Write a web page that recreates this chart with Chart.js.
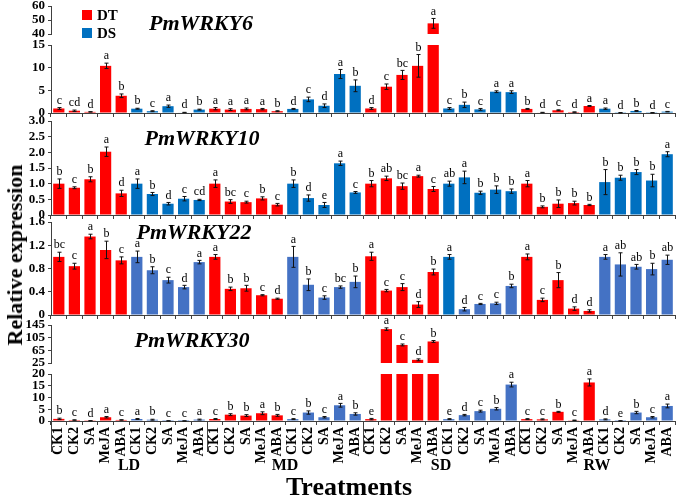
<!DOCTYPE html>
<html>
<head>
<meta charset="utf-8">
<script src="https://cdn.jsdelivr.net/npm/chart.js@4.4.0/dist/chart.umd.min.js"></script>
<style>
  html, body { margin: 0; padding: 0; background: #fff; }
  #wrap { position: relative; width: 685px; height: 497px; overflow: hidden; font-family: "Liberation Serif", "Times New Roman", serif; }
  #wrap canvas { position: absolute; left: 0; }
  .txt { position: absolute; color: #000; font-weight: bold; white-space: nowrap; line-height: 1; }
  .gene { font-style: italic; font-size: 22px; transform: translate(-50%, -50%); }
  .sw { position: absolute; width: 10px; height: 10px; }
</style>
</head>
<body>
<div id="wrap">
  <canvas id="c6top"></canvas>
  <canvas id="c6"></canvas>
  <canvas id="c10"></canvas>
  <canvas id="c22"></canvas>
  <canvas id="c30top"></canvas>
  <canvas id="c30"></canvas>

  <div class="sw" style="left:82px;top:10px;background:#FF0000"></div>
  <div class="txt" style="left:97px;top:8px;font-size:15px">DT</div>
  <div class="sw" style="left:82px;top:28px;background:#0070C0"></div>
  <div class="txt" style="left:97px;top:26px;font-size:15px">DS</div>

  <div class="txt gene" style="left:201px;top:23px">PmWRKY6</div>
  <div class="txt gene" style="left:202px;top:138px">PmWRKY10</div>
  <div class="txt gene" style="left:194px;top:232px">PmWRKY22</div>
  <div class="txt gene" style="left:192px;top:340px">PmWRKY30</div>

  <div class="txt" style="left:15px;top:255px;font-size:22px;transform:translate(-50%,-50%) rotate(-90deg)">Relative expression</div>
  <div class="txt" style="left:349px;top:487px;font-size:26px;transform:translate(-50%,-50%)">Treatments</div>
</div>

<script>
// categories
const treatments = ['CK1', 'CK2', 'SA', 'MeJA', 'ABA'];
const stages = ['LD', 'MD', 'SD', 'RW'];
const cultivars = ['DT', 'DS'];

// PmWRKY6
const wrky6 = [1.0, 0.5, 0.25, 10.4, 3.8, 0.95, 0.4, 1.5, 0.1, 0.75,
  0.95, 0.75, 0.9, 0.85, 0.4, 0.9, 3.0, 1.6, 8.6, 6.0,
  1.0, 5.8, 8.4, 10.4, 47.6, 1.0, 1.8, 0.8, 4.7, 4.6,
  0.9, 0.1, 0.6, 0.2, 1.55, 0.95, 0.05, 0.45, 0.05, 0.3];
const wrky6Err = [0.2, 0.15, 0.05, 0.6, 0.4, 0.1, 0.1, 0.25, 0.05, 0.1,
  0.25, 0.2, 0.2, 0.15, 0.1, 0.1, 0.5, 0.4, 1.0, 1.3,
  0.2, 0.6, 1.0, 2.5, 3.5, 0.2, 0.6, 0.2, 0.2, 0.3,
  0.1, 0.05, 0.1, 0.05, 0.1, 0.15, 0.05, 0.1, 0.05, 0.05];
const wrky6Sig = ['c', 'cd', 'd', 'a', 'b', 'b', 'c', 'a', 'd', 'b',
  'a', 'a', 'a', 'a', 'b', 'd', 'c', 'd', 'a', 'b',
  'd', 'c', 'bc', 'b', 'a', 'c', 'b', 'c', 'a', 'a',
  'b', 'd', 'c', 'd', 'a', 'a', 'd', 'b', 'd', 'c'];

// PmWRKY10
const wrky10 = [1.0, 0.87, 1.14, 2.02, 0.69, 1.0, 0.67, 0.36, 0.52, 0.48,
  1.0, 0.43, 0.41, 0.53, 0.33, 1.0, 0.54, 0.32, 1.65, 0.72,
  1.0, 1.17, 0.92, 1.24, 0.83, 1.0, 1.2, 0.71, 0.81, 0.76,
  1.0, 0.26, 0.36, 0.38, 0.32, 1.05, 1.19, 1.37, 1.1, 1.94];
const wrky10Err = [0.15, 0.03, 0.08, 0.15, 0.1, 0.15, 0.05, 0.04, 0.07, 0.02,
  0.12, 0.06, 0.03, 0.05, 0.04, 0.12, 0.1, 0.08, 0.07, 0.03,
  0.1, 0.07, 0.1, 0.03, 0.08, 0.08, 0.2, 0.05, 0.12, 0.07,
  0.1, 0.03, 0.12, 0.06, 0.02, 0.4, 0.08, 0.08, 0.2, 0.08];
const wrky10Sig = ['b', 'c', 'b', 'a', 'd', 'a', 'b', 'd', 'c', 'cd',
  'a', 'bc', 'c', 'b', 'c', 'b', 'd', 'e', 'a', 'c',
  'b', 'ab', 'bc', 'a', 'c', 'ab', 'a', 'b', 'b', 'b',
  'a', 'b', 'b', 'b', 'b', 'b', 'b', 'b', 'b', 'a'];

// PmWRKY22
const wrky22 = [1.0, 0.84, 1.35, 1.12, 0.94, 1.0, 0.77, 0.6, 0.48, 0.91,
  1.0, 0.45, 0.46, 0.34, 0.28, 1.0, 0.52, 0.3, 0.48, 0.57,
  1.01, 0.42, 0.48, 0.18, 0.74, 1.0, 0.1, 0.19, 0.2, 0.5,
  1.0, 0.26, 0.6, 0.11, 0.07, 1.0, 0.87, 0.83, 0.79, 0.95];
const wrky22Err = [0.08, 0.05, 0.04, 0.15, 0.06, 0.1, 0.06, 0.05, 0.03, 0.03,
  0.04, 0.03, 0.05, 0.01, 0.01, 0.18, 0.1, 0.03, 0.02, 0.1,
  0.07, 0.02, 0.06, 0.05, 0.05, 0.04, 0.03, 0.01, 0.02, 0.03,
  0.05, 0.03, 0.13, 0.03, 0.02, 0.04, 0.2, 0.04, 0.1, 0.08];
const wrky22Sig = ['bc', 'c', 'a', 'b', 'c', 'a', 'b', 'c', 'd', 'a',
  'a', 'b', 'b', 'c', 'd', 'a', 'b', 'c', 'bc', 'b',
  'a', 'c', 'c', 'd', 'b', 'a', 'd', 'c', 'c', 'b',
  'a', 'c', 'b', 'd', 'd', 'a', 'ab', 'ab', 'b', 'ab'];

// PmWRKY30
const wrky30 = [0.9, 0.4, 0.1, 1.6, 0.45, 0.85, 0.55, 0.05, 0.02, 0.6,
  0.85, 2.7, 2.3, 3.3, 2.4, 0.8, 3.6, 1.6, 6.7, 3.0,
  0.8, 132, 82, 35, 93, 0.8, 2.5, 4.2, 5.2, 15.5,
  0.8, 0.7, 3.9, 0.3, 16.4, 0.7, 0.05, 3.6, 1.6, 6.4];
const wrky30Err = [0.3, 0.1, 0.05, 0.3, 0.1, 0.2, 0.2, 0.05, 0.02, 0.2,
  0.2, 0.4, 0.4, 0.6, 0.4, 0.2, 0.7, 0.3, 0.8, 0.5,
  0.3, 4, 3, 3, 3, 0.2, 0.3, 0.4, 0.5, 1.0,
  0.2, 0.2, 0.2, 0.1, 1.5, 0.2, 0.05, 0.5, 0.3, 0.8];
const wrky30Sig = ['b', 'c', 'd', 'a', 'c', 'a', 'b', 'c', 'c', 'a',
  'c', 'b', 'b', 'a', 'b', 'c', 'b', 'c', 'a', 'b',
  'e', 'a', 'c', 'd', 'b', 'e', 'd', 'c', 'b', 'a',
  'c', 'c', 'b', 'c', 'a', 'd', 'e', 'b', 'c', 'a'];

const labels = [];
stages.forEach(() => cultivars.forEach(() => treatments.forEach(t => labels.push(t))));

const RED = '#FF0000';
const AXIS = '#404040';
const FONT = '"Liberation Serif", "Times New Roman", serif';
Chart.defaults.font.family = FONT;

function colorsFor(blue) {
  return labels.map((_, i) => (Math.floor(i / 5) % 2 ? blue : RED));
}

// error bars + significance letters
const marks = {
  id: 'marks',
  afterDatasetsDraw(chart, args, opts) {
    const { ctx, chartArea: a, scales: { y } } = chart;
    const meta = chart.getDatasetMeta(0);
    ctx.save();
    ctx.strokeStyle = '#111';
    ctx.lineWidth = 1;
    ctx.fillStyle = '#000';
    ctx.font = '12px ' + FONT;
    ctx.textAlign = 'center';
    ctx.textBaseline = 'bottom';
    opts.values.forEach((v, i) => {
      if (v > y.max || v < y.min) return;
      const e = opts.errs[i];
      const x = Math.round(meta.data[i].x) + 0.5;
      const yHi = y.getPixelForValue(v + e);
      const yLo = y.getPixelForValue(Math.max(v - e, y.min));
      const top = Math.max(yHi, a.top - 6);
      ctx.beginPath();
      ctx.moveTo(x, top); ctx.lineTo(x, yLo);
      ctx.moveTo(x - 2, top); ctx.lineTo(x + 2, top);
      ctx.moveTo(x - 2, yLo); ctx.lineTo(x + 2, yLo);
      ctx.stroke();
      ctx.fillText(opts.sig[i], x, top - 1);
    });
    ctx.restore();
  }
};

// stage groups under the bottom panel
const groups = {
  id: 'groups',
  afterDraw(chart) {
    const { ctx, chartArea: a, scales: { x } } = chart;
    const w = x.getPixelForValue(1) - x.getPixelForValue(0);
    ctx.save();
    ctx.strokeStyle = AXIS;
    ctx.lineWidth = 1;
    stages.forEach((s, g) => {
      const xl = Math.round(x.getPixelForValue(g * 10) - w / 2) + 0.5;
      ctx.beginPath();
      ctx.moveTo(xl, a.bottom);
      ctx.lineTo(xl, a.bottom + 31);
      ctx.stroke();
    });
    ctx.fillStyle = '#000';
    ctx.font = 'bold 16px ' + FONT;
    ctx.textAlign = 'center';
    ctx.textBaseline = 'middle';
    stages.forEach((s, g) => {
      const cx = (x.getPixelForValue(g * 10 + 4) + x.getPixelForValue(g * 10 + 5)) / 2;
      ctx.fillText(s, cx, a.bottom + 45);
    });
    ctx.restore();
  }
};

function makePanel(id, p) {
  const padTop = 10;
  const xh = p.xh;
  const cv = document.getElementById(id);
  const h = p.bottom - p.top + padTop + xh;
  cv.width = 685;
  cv.height = h;
  cv.style.width = '685px';
  cv.style.height = h + 'px';
  cv.style.top = (p.top - padTop) + 'px';
  const plugins = [marks];
  if (p.groups) plugins.push(groups);
  return new Chart(cv, {
    type: 'bar',
    data: {
      labels: labels,
      datasets: [{
        data: p.values,
        backgroundColor: p.colors,
        barPercentage: 0.72,
        categoryPercentage: 1,
        clip: 0
      }]
    },
    options: {
      responsive: false,
      animation: false,
      layout: { padding: { top: padTop, right: 10, left: 0, bottom: p.showX ? 0 : xh } },
      plugins: {
        legend: { display: false },
        tooltip: { enabled: false },
        marks: { values: p.values, errs: p.errs, sig: p.sig }
      },
      scales: {
        x: {
          display: p.showX,
          grid: { offset: true, drawOnChartArea: false, tickLength: 4, color: AXIS },
          border: { color: AXIS },
          ticks: {
            display: !!p.tickLabels,
            autoSkip: false,
            minRotation: 90,
            maxRotation: 90,
            padding: 2,
            color: '#000',
            font: { size: 14, weight: 'bold' }
          },
          afterFit: s => { s.height = p.showX ? xh : 0; s.paddingLeft = 0; s.paddingRight = 0; }
        },
        y: {
          min: p.min,
          max: p.max,
          grid: { drawOnChartArea: false, tickLength: 3, color: AXIS },
          border: { color: AXIS },
          ticks: {
            stepSize: p.step,
            autoSkip: false,
            padding: 3,
            color: '#000',
            font: { size: 13, weight: 'bold' },
            callback: v => (p.decimals ? (v === 0 ? '0' : v.toFixed(p.decimals)) : String(v))
          },
          afterFit: s => { s.width = 51; s.paddingTop = 0; s.paddingBottom = 0; }
        }
      }
    },
    plugins: plugins
  });
}

const blueDark = '#0070C0';
const blueLight = '#4472C4';
const colors22 = colorsFor(blueLight);
colors22[25] = blueDark;

makePanel('c6top', { top: 6, bottom: 34, min: 40, max: 60, step: 10, xh: 8, showX: false,
  values: wrky6, errs: wrky6Err, sig: wrky6Sig, colors: colorsFor(blueDark) });
makePanel('c6', { top: 45, bottom: 113, min: 0, max: 15, step: 5, xh: 8, showX: true,
  values: wrky6, errs: wrky6Err, sig: wrky6Sig, colors: colorsFor(blueDark) });
makePanel('c10', { top: 121, bottom: 215, min: 0, max: 3, step: 0.5, decimals: 1, xh: 8, showX: true,
  values: wrky10, errs: wrky10Err, sig: wrky10Sig, colors: colorsFor(blueDark) });
makePanel('c22', { top: 222, bottom: 315, min: 0, max: 1.6, step: 0.4, decimals: 1, xh: 8, showX: true,
  values: wrky22, errs: wrky22Err, sig: wrky22Sig, colors: colors22 });
makePanel('c30top', { top: 325, bottom: 363, min: 25, max: 145, step: 40, xh: 8, showX: false,
  values: wrky30, errs: wrky30Err, sig: wrky30Sig, colors: colorsFor(blueLight) });
makePanel('c30', { top: 374, bottom: 421, min: 0, max: 20, step: 5, xh: 76, showX: true, tickLabels: true, groups: true,
  values: wrky30, errs: wrky30Err, sig: wrky30Sig, colors: colorsFor(blueLight) });
</script>
</body>
</html>
